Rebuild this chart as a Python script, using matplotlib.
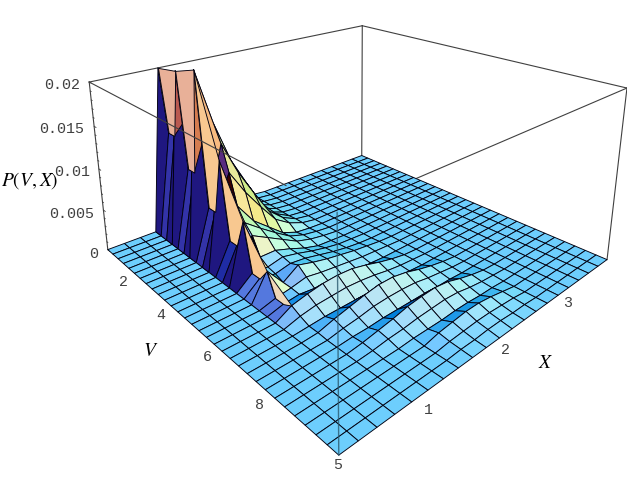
import matplotlib
matplotlib.use("Agg")
import matplotlib.pyplot as plt
import numpy as np
from mpl_toolkits.mplot3d.art3d import Poly3DCollection

# P values in units of 1e-4, one list per X row (first row is X index 4), V index along the list
X_FIRST_ROW = 4
P_ROWS = [
    [200,125,125,205,93,93,215,60,60,125,36,36,70,15,15,30,5,5,10,5,1,1],
    [150,148,146,145,145,145,150,130,100,65,50,40,20,14,12,8,8,7,14,8,2,6,3,1,2,1],
    [100,98,96,100,98,96,100,90,70,40,36,30,20,18,16,20,12,5,17,9,2,10,5,1,5,3],
    [60,58,57,62,60,58,65,58,45,25,23,20,14,14,14,15,9,3,18,10,2,14,8,2,8,4,1],
    [25,24,24,26,25,24,32,28,22,10,11,10,7,9,10,11,7,2,17,9,2,17,9,2,12,6,1,4,2,1],
    [8,8,8,9,9,9,12,12,10,3,5,5,2,5,6,8,5,1,13,7,2,17,9,2,14,7,1,6,3,1],
    [2,2,2,2,2,2,2,3,3,1,2,2,1,2,3,5,3,1,8,4,1,14,8,2,15,8,2,8,4,2],
    [0,0,0,0,0,0,0,0,0,0,0,0,0,1,1,3,2,0,4,2,1,9,5,1,13,7,2,8,4,2],
    [0,0,0,0,0,0,0,0,0,0,0,0,0,0,0,1,1,0,1,1,0,5,3,1,8,4,1,6,3,1],
    [0,0,0,0,0,0,0,0,0,0,0,0,0,0,0,0,0,0,0,0,0,2,1,0,4,2,1,3,2,1],
    [0,0,0,0,0,0,0,0,0,0,0,0,0,0,0,0,0,0,0,0,0,0,0,0,1,1],
]
V_MAX = 10.0
X_MAX = 3.75
Z_MAX = 0.02
W, H = 627, 501

V = np.linspace(0, V_MAX, 31)
X = np.linspace(0, X_MAX, 21)
Z = np.zeros((len(V), len(X)))
for k, row in enumerate(P_ROWS):
    Z[:len(row), X_FIRST_ROW + k] = np.array(row) * 1e-4

fig = plt.figure(figsize=(W/100, H/100), dpi=100)
ax = fig.add_axes([0, 0, 1, 1], projection="3d")
ax.set_axis_off()
ax.set_xlim(0, V_MAX); ax.set_ylim(0, X_MAX); ax.set_zlim(0, Z_MAX)
ax.apply_aspect()

# box corners as seen in the picture (V, X, P as fractions of the box, then pixel x, y)
corners = [(0,0,0,108,250),(1,0,0,338,455),(0,1,0,362,155),(1,1,0,607,260),
           (0,0,1,89,82),(1,0,1,338,212),(0,1,1,362,26),(1,1,1,627,88)]

# camera matrix for the off-centre Mathematica view, solved from the corners
rows = []
for a, b, c, px, py in corners:
    py = H - py
    q = [a*1.0, b, c, 1]
    rows.append(q + [0,0,0,0] + [-px*t for t in q])
    rows.append([0,0,0,0] + q + [-py*t for t in q])
P = np.linalg.svd(np.array(rows))[2][-1].reshape(3, 4)
if (P[2] @ np.array([.5,.5,.5,1])) < 0:
    P = -P
P = np.linalg.inv(ax.transData.get_matrix()) @ P @ np.diag([1/V_MAX, 1/X_MAX, 1/Z_MAX, 1])
P = P / P[2, 3]
M = np.vstack((P[0], P[1], P[2] - np.array([0, 0, 0, 2.0]), P[2]))
ax.get_proj = lambda: M

# Mathematica style three coloured lights in view coordinates
el, az, hbox = np.radians(37), np.radians(-42), 0.4
r = np.array([-np.sin(az), np.cos(az), 0])
w = np.array([np.cos(el)*np.cos(az), np.cos(el)*np.sin(az), np.sin(el)])
u = np.cross(w, r)
du = 1/(len(V)-1); dw = 1/(len(X)-1); hz = hbox/Z_MAX
dzu = ((Z[1:,:-1]+Z[1:,1:]-Z[:-1,:-1]-Z[:-1,1:])/2)*hz/du
dzw = ((Z[:-1,1:]+Z[1:,1:]-Z[:-1,:-1]-Z[1:,:-1])/2)*hz/dw
n = np.dstack((-dzu, -dzw, np.ones_like(dzu)))
n = n/np.linalg.norm(n, axis=2, keepdims=True)
nv = np.dstack((n@r, n@u, n@w))
nv = nv*np.sign(nv[:,:,2:3]+1e-9)
lights = np.array([[1,0,1],[1,1,1],[0,1,1]], float)
lights = lights/np.linalg.norm(lights, axis=1, keepdims=True)
rgb = np.clip(nv@lights.T, 0, 1)
steep = n[:,:,2] < 0.5
right = steep & (nv[:,:,0] > 0.1)
left = steep & (nv[:,:,0] <= 0.1)
rgb[right] = rgb[right]*0.65 + 0.35*np.array([1, 0.97, 0.9])
rgb[left] = np.maximum(rgb[left], [0.12, 0.09, 0.5])

# the wall at the first raised row: navy beside a spike, lighter strips between spikes
NAVY, STRIP_DARK, STRIP = (0.12, 0.09, 0.5), (0.2, 0.2, 0.66), (0.27, 0.38, 0.8)
WALL_LOW = (0.33, 0.47, 0.87)
PINK, PEACH, BEIGE = "#e8b098", "#f8c890", "#f0d8b8"
for i in range(len(V)-1):
    if steep[i, 3]:
        rgb[i, 3] = NAVY if i % 3 != 1 else (STRIP_DARK if i < 9 else STRIP)
rgb[13:18, 3] = WALL_LOW
cols = np.dstack((rgb, np.ones(rgb.shape[:2])))

ax.computed_zorder = False
VV, XX = np.meshgrid(V, X, indexing="ij")
surf = ax.plot_surface(VV, XX, Z, facecolors=cols, rstride=1, cstride=1, edgecolor="#000010",
                       linewidth=0.65, shade=False, zorder=2, antialiased=True)
surf.set_clip_on(False)

# faces from one spike across the valley to the next one
spike_faces = [(0, PINK), (3, PINK), (6, PEACH), (9, PEACH), (12, PEACH), (15, BEIGE)]
j = X_FIRST_ROW
for k, colour in spike_faces:
    verts = [(V[i], X[j], Z[i, j]) for i in (k, k+3, k+2, k+1)]
    face = Poly3DCollection([verts], facecolors=colour, edgecolors="#000010", linewidths=0.65, zorder=2.5)
    face.set_clip_on(False)
    ax.add_collection3d(face, autolim=False)

def edge(a0, b0, color="#404040", lw=0.8, z=1, alpha=1):
    ax.plot([a0[0]*V_MAX, b0[0]*V_MAX], [a0[1]*X_MAX, b0[1]*X_MAX], [a0[2]*Z_MAX, b0[2]*Z_MAX],
            color=color, lw=lw, zorder=z, alpha=alpha, clip_on=False)

edge((0,0,1),(0,1,1)); edge((0,1,1),(1,1,1)); edge((0,0,0),(0,0,1)); edge((0,1,0),(0,1,1)); edge((1,1,0),(1,1,1))
edge((0,0,1),(0.86,0,1), z=3)
edge((1,1,1),(1,0,1))
edge((1,0,0),(1,0,1), color="#2a5a70", lw=1.0, z=3, alpha=0.8)

for zt in np.arange(0, 0.0201, 0.001):
    size = 0.12 if round(zt*1000) % 5 == 0 else 0.06
    ax.plot([0,size],[0,0],[zt,zt],color="#404040",lw=0.6,zorder=1,clip_on=False)

labels = [("0.02",62,85),("0.015",62,129),("0.01",72,172),("0.005",72,214),("0",94,254),
          ("2",123,282),("4",161,315),("6",207,357),("8",260,405),("5",338,465),
          ("1",428,410),("2",505,350),("3",568,303)]
for s, x, y in labels:
    fig.text(x/W, 1-y/H, s, family="Liberation Mono", fontsize=10.8, ha="center", va="center", color="#404040")
for s, x, y in [("$P(V,X)$",30,181),("$V$",151,351),("$X$",546,362)]:
    fig.text(x/W, 1-y/H, s, fontsize=14, ha="center", va="center", math_fontfamily="stix")

fig.savefig("out.png", dpi=100)
